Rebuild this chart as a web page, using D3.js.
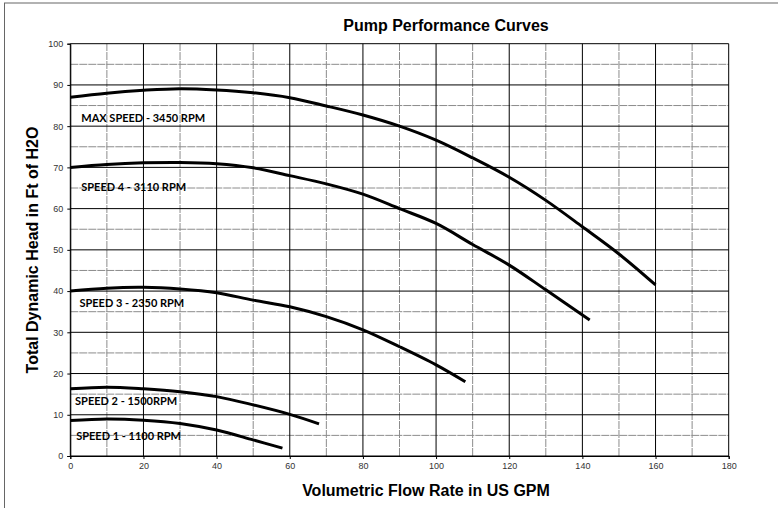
<!DOCTYPE html>
<html>
<head>
<meta charset="utf-8">
<script src="https://cdn.jsdelivr.net/npm/d3@7"></script>
<style>
  body { margin: 0; background: #fff; }
  svg { display: block; }
</style>
</head>
<body>
<svg id="chart" width="778" height="508"></svg>
<script>
// pump curves (flow in US GPM, head in ft)
var max_flow = [0, 10, 20, 30, 40, 50, 60, 70, 80, 90, 100, 110, 120, 130, 140, 150, 160];
var max_head = [87.0, 88.0, 88.7, 89.1, 88.8, 88.1, 86.9, 84.9, 82.7, 80.0, 76.6, 72.3, 67.6, 62.0, 55.6, 49.0, 41.5];

var s4_flow = [0, 10, 20, 30, 40, 50, 60, 70, 80, 90, 100, 110, 120, 130, 142];
var s4_head = [70.0, 70.7, 71.1, 71.2, 70.9, 69.9, 68.0, 66.0, 63.5, 60.0, 56.4, 51.3, 46.3, 40.3, 33.0];

var s3_flow = [0, 10, 20, 30, 40, 50, 60, 70, 80, 90, 100, 108];
var s3_head = [40.0, 40.7, 40.9, 40.5, 39.6, 37.8, 36.2, 33.8, 30.6, 26.5, 22.1, 18.0];

var s2_flow = [0, 10, 20, 30, 40, 50, 60, 68];
var s2_head = [16.3, 16.7, 16.3, 15.6, 14.4, 12.4, 10.1, 7.8];

var s1_flow = [0, 10, 20, 30, 40, 50, 58];
var s1_head = [8.6, 9.0, 8.7, 7.9, 6.3, 3.9, 1.9];

var labels = ['MAX SPEED - 3450 RPM', 'SPEED 4 - 3110 RPM', 'SPEED 3 - 2350 RPM',
              'SPEED 2 - 1500RPM', 'SPEED 1 - 1100 RPM'];
// where each label sits (flow, head)
var label_flow = [3, 3, 2.5, 1.3, 1.6];
var label_head = [81.0, 64.2, 36.2, 12.4, 4.0];

var x_ticks = d3.range(0, 181, 20);
var y_ticks = d3.range(0, 101, 10);

var SANS = "'Liberation Sans', Arial, Helvetica, sans-serif";

var svg = d3.select('#chart');
var margin = {left: 70.3, right: 49.3, top: 43.7, bottom: 52};
var W = 778, H = 508;

var x = d3.scaleLinear().domain([0, 180]).range([margin.left, W - margin.right]);
var y = d3.scaleLinear().domain([0, 100]).range([H - margin.bottom, margin.top]);

// outer frame (only top/left edges show in the picture)
svg.append('rect')
    .attr('x', 4.5).attr('y', 3)
    .attr('width', 1200).attr('height', 1200)
    .attr('fill', 'none')
    .attr('stroke', '#666')
    .attr('stroke-width', 1);

var grid = svg.append('g');

// minor grid
grid.selectAll('.vminor')
    .data(d3.range(10, 180, 20))
    .join('line')
    .attr('x1', d => x(d)).attr('x2', d => x(d))
    .attr('y1', y(0)).attr('y2', y(100))
    .attr('stroke', '#8c8c8c')
    .attr('stroke-dasharray', '8,1');
grid.selectAll('.hminor')
    .data(d3.range(5, 100, 10))
    .join('line')
    .attr('y1', d => y(d)).attr('y2', d => y(d))
    .attr('x1', x(0)).attr('x2', x(180))
    .attr('stroke', '#8c8c8c')
    .attr('stroke-dasharray', '8,1');

// major grid
grid.selectAll('.vmajor')
    .data(x_ticks)
    .join('line')
    .attr('x1', d => x(d)).attr('x2', d => x(d))
    .attr('y1', y(0)).attr('y2', y(100))
    .attr('stroke', '#000');
grid.selectAll('.hmajor')
    .data(y_ticks)
    .join('line')
    .attr('y1', d => y(d)).attr('y2', d => y(d))
    .attr('x1', x(0)).attr('x2', x(180))
    .attr('stroke', '#000');

// axes
var xAxis = svg.append('g')
    .attr('transform', 'translate(0,' + y(0) + ')')
    .call(d3.axisBottom(x).tickValues(x_ticks).tickSize(3).tickPadding(4));
var yAxis = svg.append('g')
    .attr('transform', 'translate(' + x(0) + ',0)')
    .call(d3.axisLeft(y).tickValues(y_ticks).tickSize(3).tickPadding(4));
[xAxis, yAxis].forEach(function(a) {
    a.select('.domain').attr('stroke', '#000');
    a.selectAll('.tick line').attr('stroke', '#000');
    a.selectAll('text')
        .attr('font-family', SANS)
        .attr('font-size', 9)
        .attr('fill', '#333');
});

// curves
var line = d3.line()
    .x(d => x(d[0]))
    .y(d => y(d[1]))
    .curve(d3.curveCatmullRom.alpha(0.5));

var series = [
    d3.zip(max_flow, max_head),
    d3.zip(s4_flow, s4_head),
    d3.zip(s3_flow, s3_head),
    d3.zip(s2_flow, s2_head),
    d3.zip(s1_flow, s1_head)
];

svg.append('g').selectAll('path')
    .data(series)
    .join('path')
    .attr('d', line)
    .attr('fill', 'none')
    .attr('stroke', '#000')
    .attr('stroke-width', 3);

// curve labels
svg.append('g').selectAll('text')
    .data(labels)
    .join('text')
    .attr('x', (d, i) => x(label_flow[i]))
    .attr('y', (d, i) => y(label_head[i]))
    .attr('font-family', "Lato, 'Open Sans', sans-serif")
    .attr('font-weight', 'bold')
    .attr('font-size', 11)
    .attr('fill', '#000')
    .text(d => d);

// titles
svg.append('text')
    .attr('x', 446).attr('y', 31)
    .attr('text-anchor', 'middle')
    .attr('font-family', SANS)
    .attr('font-weight', 'bold')
    .attr('font-size', 16)
    .text('Pump Performance Curves');

svg.append('text')
    .attr('x', 426).attr('y', 496)
    .attr('text-anchor', 'middle')
    .attr('font-family', SANS)
    .attr('font-weight', 'bold')
    .attr('font-size', 16)
    .text('Volumetric Flow Rate in US GPM');

svg.append('text')
    .attr('transform', 'translate(38,250) rotate(-90)')
    .attr('text-anchor', 'middle')
    .attr('font-family', SANS)
    .attr('font-weight', 'bold')
    .attr('font-size', 16)
    .text('Total Dynamic Head in Ft of H2O');
</script>
</body>
</html>
